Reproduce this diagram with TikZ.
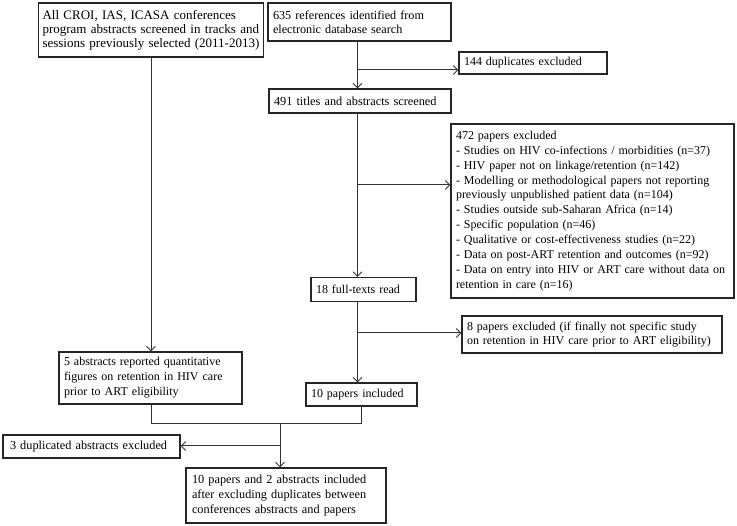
\documentclass[tikz,border=0pt]{standalone}
\usepackage{fontspec}
\setmainfont{Liberation Serif}
\usetikzlibrary{arrows.meta}
\begin{document}
\begin{tikzpicture}[x=1pt,y=-1pt,
  box/.style={draw=black!85, line width=1.1pt, inner xsep=5pt, inner ysep=0pt,
    align=left, font=\fontsize{12}{14.9}\selectfont, anchor=center},
  arr/.style={draw=black!80, line width=1pt, -{Straight Barb[length=4.5pt,width=9pt,line width=0.9pt]}},
  ln/.style={draw=black!80, line width=1pt}]
\useasboundingbox (0,0) rectangle (737,526);
% boxes
\node[box, text width=217pt, minimum height=54pt, inner xsep=4pt, font=\fontsize{13}{14}\selectfont] (A) at (151,30) {All CROI, IAS, ICASA conferences\\program abstracts screened in tracks and\\sessions previously selected (2011-2013)};
\node[box, text width=173pt, minimum height=38pt, font=\fontsize{12.2}{14}\selectfont] (B) at (359.5,22) {635 references identified from\\electronic database search};
\node[box, text width=138pt, minimum height=22pt] (D) at (533,63) {144 duplicates excluded};
\node[box, text width=172pt, minimum height=24pt, font=\fontsize{12.3}{14}\selectfont] (C) at (360,101) {491 titles and abstracts screened};
\node[box, text width=273pt, minimum height=174pt] (E) at (592.5,211) {472 papers excluded\\
- Studies on HIV co-infections / morbidities (n=37)\\
- HIV paper not on linkage/retention (n=142)\\
- Modelling or methodological papers not reporting\\
previously unpublished patient data (n=104)\\
- Studies outside sub-Saharan Africa (n=14)\\
- Specific population (n=46)\\
- Qualitative or cost-effectiveness studies (n=22)\\
- Data on post-ART retention and outcomes (n=92)\\
- Data on entry into HIV or ART care without data on\\
retention in care (n=16)};
\node[box, text width=95pt, minimum height=24pt] (F) at (363.5,289.5) {18 full-texts read};
\node[box, text width=250pt, minimum height=37pt, font=\fontsize{12}{14}\selectfont] (G) at (592,334.5) {8 papers excluded (if finally not specific study\\on retention in HIV care prior to ART eligibility)};
\node[box, text width=173pt, minimum height=52pt] (H) at (150.5,378) {5 abstracts reported quantitative\\figures on retention in HIV care\\prior to ART eligibility};
\node[box, text width=101pt, minimum height=23pt] (I) at (361.5,394.5) {10 papers included};
\node[box, text width=163pt, minimum height=23pt, inner xsep=7pt, font=\fontsize{12.3}{14}\selectfont] (J) at (91.5,446.5) {3 duplicated abstracts excluded};
\node[box, text width=188pt, minimum height=55pt, inner xsep=6pt, font=\fontsize{12.3}{14.9}\selectfont] (K) at (286,495.5) {10 papers and 2 abstracts included\\after excluding duplicates between\\conferences abstracts and papers};
% junction coordinates
\coordinate (xr) at (357.5,0);
\coordinate (j1) at (357.5,70);
\coordinate (j2) at (357.5,185);
\coordinate (j3) at (357.5,333);
\coordinate (m1) at (151,424);
\coordinate (m2) at (361.5,424);
\coordinate (m3) at (280,424);
\coordinate (m4) at (280,446);
% connectors
\draw[arr] (B.south -| xr) -- (C.north -| xr);
\draw[arr] (j1) -- (j1 -| D.west);
\draw[arr] (C.south -| xr) -- (F.north -| xr);
\draw[arr] (j2) -- (j2 -| E.west);
\draw[arr] (F.south -| xr) -- (I.north -| xr);
\draw[arr] (j3) -- (j3 -| G.west);
\draw[arr] (A.south -| m1) -- (H.north -| m1);
\draw[ln] (H.south -| m1) -- (m1) -- (m2) -- (I.south -| m2);
\draw[arr] (m3) -- (K.north -| m3);
\draw[arr] (m4) -- (m4 -| J.east);
\end{tikzpicture}
\end{document}
